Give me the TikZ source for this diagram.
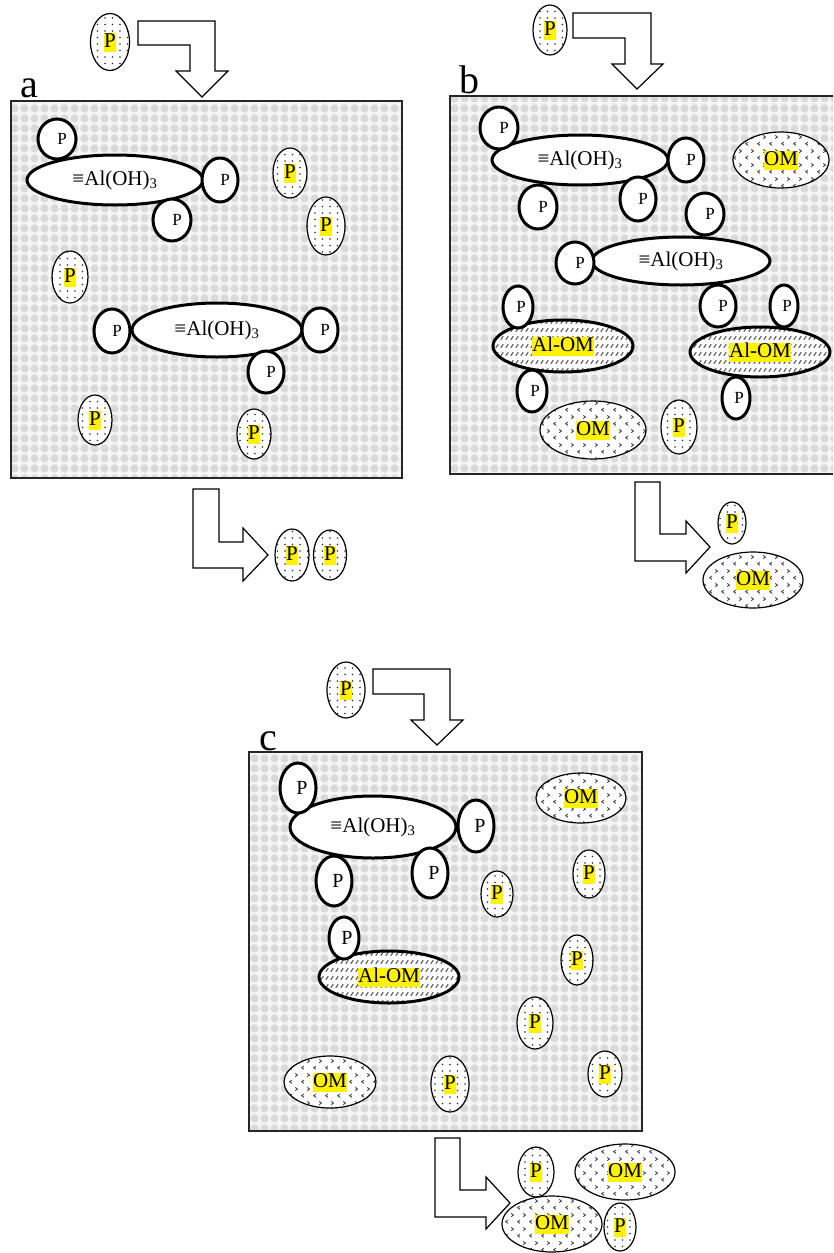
\documentclass[tikz,border=0pt]{standalone}
\usepackage{fontspec}
\setmainfont{Liberation Serif}
\usepackage{xcolor}
\usetikzlibrary{shapes.geometric, patterns}

\setlength{\fboxsep}{0pt}
\newcommand{\ylw}[1]{\colorbox{yellow}{\rule[-4pt]{0pt}{19pt}#1}}

% fills
\pgfdeclarepatternformonly{bubbles}{\pgfqpoint{0pt}{0pt}}{\pgfqpoint{10pt}{10pt}}{\pgfqpoint{10pt}{10pt}}{%
  \pgfpathcircle{\pgfqpoint{5pt}{5pt}}{4.5pt}\pgfusepath{fill}}
\pgfdeclarepatternformonly{sparsedots}{\pgfqpoint{-1pt}{-1pt}}{\pgfqpoint{1pt}{1pt}}{\pgfqpoint{7.5pt}{6.5pt}}{%
  \pgfpathcircle{\pgfqpoint{0pt}{0pt}}{0.9pt}\pgfusepath{fill}}
\pgfdeclarepatternformonly{chevrons}{\pgfqpoint{0pt}{0pt}}{\pgfqpoint{12pt}{14pt}}{\pgfqpoint{12pt}{14pt}}{%
  \pgfsetlinewidth{0.9pt}
  \pgfpathmoveto{\pgfqpoint{4.2pt}{5.2pt}}\pgfpathlineto{\pgfqpoint{1.8pt}{3.5pt}}\pgfpathlineto{\pgfqpoint{4.2pt}{1.8pt}}
  \pgfpathmoveto{\pgfqpoint{7.8pt}{12.2pt}}\pgfpathlineto{\pgfqpoint{10.2pt}{10.5pt}}\pgfpathlineto{\pgfqpoint{7.8pt}{8.8pt}}
  \pgfusepath{stroke}}
\pgfdeclarepatternformonly{hatch}{\pgfqpoint{0pt}{0pt}}{\pgfqpoint{4.5pt}{8pt}}{\pgfqpoint{4.5pt}{8pt}}{%
  \pgfsetlinewidth{1.1pt}
  \pgfpathmoveto{\pgfqpoint{0.9pt}{1.5pt}}\pgfpathlineto{\pgfqpoint{3.6pt}{5.2pt}}
  \pgfusepath{stroke}}

\begin{document}
\begin{tikzpicture}[x=1pt, y=-1pt, font=\fontsize{21}{23}\selectfont,
  sz/.style 2 args={minimum width=#1pt, minimum height=#2pt},
  tank/.style={draw=black!85, line width=1.4pt, preaction={fill=gray!8}, pattern=bubbles, pattern color=gray!30},
  flowarrow/.style={draw, line width=1.2pt, fill=white, line join=miter},
  freeP/.style={ellipse, draw, line width=1.2pt, inner sep=0pt, preaction={fill=white}, pattern=sparsedots, pattern color=black!80},
  omblob/.style={ellipse, draw, line width=1.2pt, inner sep=0pt, preaction={fill=white}, pattern=chevrons, pattern color=black!75},
  alom/.style={ellipse, draw, line width=3pt, inner sep=0pt, preaction={fill=white}, pattern=hatch, pattern color=black!70},
  alox/.style={ellipse, draw, line width=3pt, fill=white, inner sep=0pt},
  boundP/.style={ellipse, draw, line width=3pt, fill=white, inner sep=0pt, font=\fontsize{17}{18}\selectfont},
  bigP/.style={boundP, font=\fontsize{20}{21}\selectfont},
  tag/.style={anchor=base west, inner sep=0pt, font=\fontsize{40}{40}\selectfont}]
\clip (0,0) rectangle (833,1253);

% ---- panel a
\draw[tank] (11,101) rectangle (402,478);
\node[tag] (tagA) at (20,97) {a};
\node[freeP, sz={39}{57}] (inA) at (110,42) {\ylw{P}};
\draw[flowarrow] (138,21) -- (215,21) -- (215,71) -- (228,71) -- (202,97) -- (176,71) -- (190,71) -- (190,45) -- (138,45) -- cycle;
\node[alox, sz={176}{50}] (alA1) at (115,180) {≡Al(OH)\textsubscript{3}};
\node[boundP, sz={38}{40}] (pA1) at (57,139) {\hspace*{10pt}P};
\node[boundP, sz={36}{44}] (pA2) at (220,180) {\hspace*{10pt}P};
\node[boundP, sz={38}{42}] (pA3) at (172,220) {\hspace*{10pt}P};
\node[alox, sz={170}{54}] (alA2) at (217,330) {≡Al(OH)\textsubscript{3}};
\node[boundP, sz={36}{44}] (pA4) at (112,331) {\hspace*{10pt}P};
\node[boundP, sz={36}{44}] (pA5) at (320,330) {\hspace*{10pt}P};
\node[boundP, sz={36}{42}] (pA6) at (266,372) {\hspace*{10pt}P};
\node[freeP, sz={34}{50}] (fA1) at (290,173) {\ylw{P}};
\node[freeP, sz={38}{58}] (fA2) at (326,226) {\ylw{P}};
\node[freeP, sz={36}{52}] (fA3) at (70,277) {\ylw{P}};
\node[freeP, sz={34}{50}] (fA4) at (95,420) {\ylw{P}};
\node[freeP, sz={34}{50}] (fA5) at (254,434) {\ylw{P}};
\draw[flowarrow] (193,489) -- (219,489) -- (219,542) -- (243,542) -- (243,528) -- (268,555) -- (243,581) -- (243,568) -- (193,568) -- cycle;
\node[freeP, sz={34}{52}] (outA1) at (292,555) {\ylw{P}};
\node[freeP, sz={33}{50}] (outA2) at (330,555) {\ylw{P}};

% ---- panel b
\draw[tank] (450,96) rectangle (845,474);
\node[tag] (tagB) at (459,93) {b};
\node[freeP, sz={34}{50}] (inB) at (550,30) {\ylw{P}};
\draw[flowarrow] (573,13) -- (651,13) -- (651,64) -- (663,64) -- (637,89) -- (612,64) -- (625,64) -- (625,38) -- (573,38) -- cycle;
\node[alox, sz={176}{50}] (alB1) at (580,160) {≡Al(OH)\textsubscript{3}};
\node[boundP, sz={38}{42}] (pB1) at (499,128) {\hspace*{10pt}P};
\node[boundP, sz={36}{44}] (pB2) at (686,160) {\hspace*{10pt}P};
\node[boundP, sz={38}{44}] (pB3) at (538,207) {\hspace*{10pt}P};
\node[boundP, sz={36}{44}] (pB4) at (638,199) {\hspace*{10pt}P};
\node[boundP, sz={38}{42}] (pB5) at (705,214) {\hspace*{10pt}P};
\node[alox, sz={178}{48}] (alB2) at (681,261) {≡Al(OH)\textsubscript{3}};
\node[boundP, sz={38}{42}] (pB6) at (575,263) {\hspace*{10pt}P};
\node[omblob, sz={96}{56}] (omB1) at (781,160) {\ylw{OM}};
\node[alom, sz={140}{52}] (aoB1) at (563,346) {\ylw{Al-OM}};
\node[alom, sz={140}{50}] (aoB2) at (760,352) {\ylw{Al-OM}};
\node[boundP, sz={36}{42}] (pB7) at (718,306) {\hspace*{10pt}P};
\node[boundP, sz={28}{42}] (pB8) at (784,306) {\hspace*{6pt}P};
\node[boundP, sz={30}{42}] (pB9) at (518,307) {\hspace*{6pt}P};
\node[boundP, sz={30}{42}] (pB10) at (532,391) {\hspace*{6pt}P};
\node[boundP, sz={28}{42}] (pB11) at (736,398) {\hspace*{6pt}P};
\node[omblob, sz={106}{58}] (omB2) at (593,430) {\ylw{OM}};
\node[freeP, sz={36}{54}] (fB1) at (679,427) {\ylw{P}};
\draw[flowarrow] (635,482) -- (660,482) -- (660,534) -- (686,534) -- (686,521) -- (710,547) -- (686,573) -- (686,561) -- (635,561) -- cycle;
\node[freeP, sz={28}{42}] (outB1) at (732,523) {\ylw{P}};
\node[omblob, sz={100}{56}] (outB2) at (753,580) {\ylw{OM}};

% ---- panel c
\draw[tank] (249,752) rectangle (642,1131);
\node[tag] (tagC) at (259,750) {c};
\node[freeP, sz={38}{56}] (inC) at (346,690) {\ylw{P}};
\draw[flowarrow] (373,669) -- (450,669) -- (450,720) -- (463,720) -- (437,745) -- (411,720) -- (424,720) -- (424,694) -- (373,694) -- cycle;
\node[alox, sz={166}{62}] (alC) at (373,827) {≡Al(OH)\textsubscript{3}};
\node[bigP, sz={36}{50}] (pC1) at (298,788) {\hspace*{8pt}P};
\node[bigP, sz={36}{52}] (pC2) at (476,826) {\hspace*{8pt}P};
\node[bigP, sz={36}{50}] (pC3) at (334,881) {\hspace*{8pt}P};
\node[bigP, sz={36}{50}] (pC4) at (430,873) {\hspace*{8pt}P};
\node[alom, sz={140}{52}] (aoC) at (389,977) {\ylw{Al-OM}};
\node[bigP, sz={30}{42}] (pC5) at (344,938) {\hspace*{6pt}P};
\node[omblob, sz={90}{50}] (omC1) at (581,798) {\ylw{OM}};
\node[omblob, sz={92}{52}] (omC2) at (330,1082) {\ylw{OM}};
\node[freeP, sz={32}{48}] (fC1) at (589,874) {\ylw{P}};
\node[freeP, sz={32}{46}] (fC2) at (497,894) {\ylw{P}};
\node[freeP, sz={32}{50}] (fC3) at (577,960) {\ylw{P}};
\node[freeP, sz={36}{52}] (fC4) at (535,1023) {\ylw{P}};
\node[freeP, sz={38}{56}] (fC5) at (450,1084) {\ylw{P}};
\node[freeP, sz={34}{46}] (fC6) at (605,1074) {\ylw{P}};
\draw[flowarrow] (435,1138) -- (460,1138) -- (460,1190) -- (486,1190) -- (486,1177) -- (510,1203) -- (486,1229) -- (486,1217) -- (435,1217) -- cycle;
\node[freeP, sz={36}{50}] (outC1) at (536,1172) {\ylw{P}};
\node[omblob, sz={100}{56}] (outC2) at (625,1172) {\ylw{OM}};
\node[omblob, sz={100}{56}] (outC3) at (552,1224) {\ylw{OM}};
\node[freeP, sz={32}{48}] (outC4) at (620,1227) {\ylw{P}};
\end{tikzpicture}
\end{document}
